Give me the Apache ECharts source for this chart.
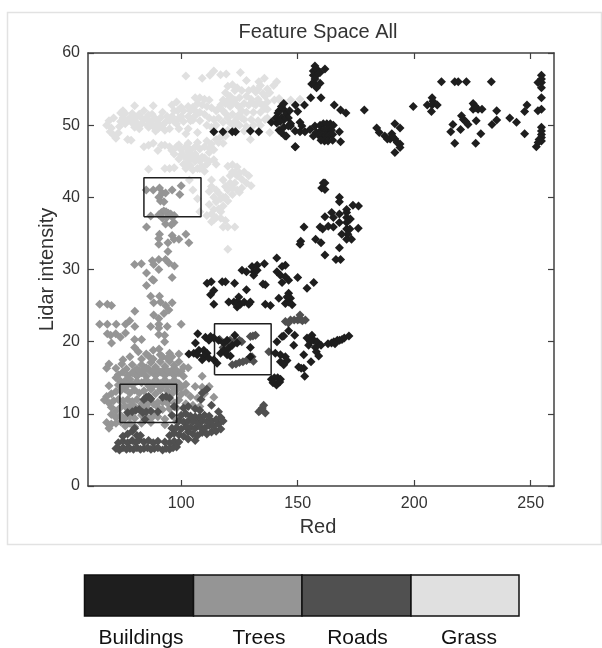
<!DOCTYPE html>
<html><head><meta charset="utf-8">
<script src="https://cdn.jsdelivr.net/npm/echarts@6/dist/echarts.min.js"></script>
<style>html,body{margin:0;padding:0;background:#fff}#c{width:602px;height:648px}</style></head>
<body><div id="c"></div>
<script>
const titleText='Feature Space All', xName='Red', yName='Lidar intensity';
const classNames=['Buildings','Trees','Roads','Grass'];
const classColors=['#1e1e1e','#959595','#505050','#e0e0e0'];
const xTicks=[100,150,200,250];
const yTicks=[0,10,20,30,40,50,60];
const boxes=[[84,108.5,37.3,42.7],[114.3,138.6,15.4,22.5],[73.7,98.1,8.8,14.1]];
const grass=[
[68,50],[69,50.6],[70,49.6],[71,51],[69.5,49.1],[71,48.6],[72,48.2],[73,48.9],[73.5,49.8],[74,50.5],[74,51.7],[75,52],[75,51],[76,51.6],[77,48],[78.5,47.9],[77,50.7],[78,51],[79,51.6],[80,52.7],[80.5,51],[81,50.3],[82,51.5],[83,51],[83,50.2],[84,52],[85,51],[85.5,50],[86,49.7],[87,50.5],[87.5,51.5],[88,52.7],[89,50.9],[90,49.5],[90,50.3],[91,51],[92,51.8],[92,50],[93,49.3],[93.5,50.5],[94,51.2],[95,50.6],[95,49.5],[96,52.8],[97,52],[98,53.2],[98.5,52],[99,51],[99,49.5],[100,52.5],[100,51.2],[101,50.5],[101,52],[102,48.8],[103,49.5],[104,52],[105,50.7],
[76,50.2],[79,50.3],[80,49.7],[82,49.5],[84,50.7],[86,51.4],[88,49.8],[89,49.2],[91,49.8],[96,51.2],[97,50.5],[98,50.2],[103,51.2],[104,50.6],[103,52.6],[105,52.5],[106,51.3],
[102,56.8],[109,56.5],[112.3,56.9],[114,57.5],[116.9,57],[119.3,57.1],[125.4,57.3],[128,56.2],[135.7,56.5],[141,56],[139.7,55.5],[133.3,56],[134,55.5],[137,55],[138,54.5],[136,54],
[106,53.8],[108,53.8],[110,53.6],[112,53.5],[107,53],[109,52.8],[111,52.6],[113,52.4],[115,52],[106,52],[108,51.8],[110,51.5],[112,51],[114,50.8],[116,51],[108,50.6],[111,50],[113,49.7],[115,50],[107,49],[118,52],[118,53.5],[119,54.5],[120,55.4],[121,54],[122,55.6],[123,54.8],[124,55.2],[121,52.6],[122,51.5],[123,53.5],[124,52.8],[120,51],[118,50.4],[125,53.8],[126,52],[126,54.8],[127,53],[127,50.8],[128,51.8],[129,52.8],[129,54.8],[130,53.6],[130,50.8],[131,51.8],[132,52.8],[132,54.6],[133,50.6],[133,53.6],[134,51.8],[135,52.8],[135,54.4],[136,50.8],[137,52.2],[137,53.2],[125,50],[123,49.8],[129.7,48],[138,49],[140,53.5],[142,53.7],[143,53.2],[144.5,53],[147,53.5],[151,53.6],[128,49.8],
[119,53],[120,53.5],[122,53],[124,51],[125,51.5],[125,52.5],[123,50.5],[121,50.3],[119,51.6],[117,52.8],[116,52.3],[128,54],[131,53],[131,55],[133,55],[134,53],[136,52.3],[131,50],[134,50],[120,49.3],[127,49.2],[137,51],[126,51],
[84,47],[86,47.2],[88,47.5],[90,46.5],[91.5,47.2],[93,47.2],[95,47],[96,46.5],[97,46],[98,47],[99,47.3],[100,46.6],[101,45.8],[102,47],[103,47.5],[104,46.6],[105,45.8],[106,47],[107,47.6],[108,46.7],[109,45.6],[110,47],[111,47.8],[112,46.8],[113,47.4],[114,46.6],[115,48],[116,47.6],[117,48.4],[118,47.5],[119,48.5],[99,45.3],[101,44.6],[102,44],[103,45],[104,44.4],[105,43.8],[106,45],[107,44],[108,45],[109,44.2],[110,43.6],[111,44.6],[112,45],[114,45.2],[115,44.6],[93,44],[95,44],[97,44.1],[103.5,42.4],[86,43.9],
[100,45.9],[102,45.5],[104,45.5],[106,46],[107,45.5],[108,44],[110,45.5],[112,46.2],[103,46.3],
[120,44.3],[122,44.5],[124,44.2],[125,43.4],[129,43],[128,42],[130,41.6],[121,43],[123,43.4],[118,42.4],[119,41.5],[120,41],[121,42],[123,42],[124,41],[126,42.5],[125,40.7],[122,40.4],[119,40],[120,39.5],[112,40.8],[113,41.5],[113,42.4],[114,40],[115,39.4],[116,40.6],[117,39.8],[118,38.8],[116,38.4],[112,39],[108,38],[111,37.5],[113,37.7],[115,37.2],[117,37.1],[119,36.8],[113,36.6],[114,36.9],[118,35.9],[120,35.9],[123,35.9],[120,32.8],[107,39.8],[105,41],
[122,41.3],[124,43],[126,41.3],[127,43.5],[122,43.5],[118,40],[115,41],[117,38],[114,38.3]];
const trees=[
[85,41],[88,41],[90.7,41.3],[91.9,40.6],[93.3,40.6],[96.1,41],[100,41.6],[99.4,40.4],[90.4,40],[91.1,39.5],[92.6,39.4],[86.9,37.4],[90.4,37.6],[91.5,37.9],[92.5,38.1],[93.5,38],[94.5,37.8],[95.5,37.7],[92,37.1],[93.8,37.2],[96,37.3],[97,37.5],[85.1,35.9],[93.3,36.3],[96.9,36.5],[95.8,36.2],[90.7,34.9],[90.4,34.3],[90.4,33.5],[94.3,33.7],[96.1,34.7],[96.9,34.2],[99,34.2],[102,34.9],[103.3,33.7],[94.3,32.5],[80,30.7],[82.9,30.8],[87.6,31.2],[90.4,31.4],[93.3,31.4],[94.7,30.9],[97.1,30.5],[88.2,30.7],[90.4,30],[85.1,29.5],[96.1,28.9],[87.6,28.6],
[85.1,27.8],[88.2,28.5],[86.9,26.3],[90.7,26.3],[88.2,25.4],[91.1,25.5],[93.3,25],[96.1,25.4],[94.7,24.4],[92.6,23.9],[88.2,23.7],[90.4,23.2],[100,22.4],[86.9,22.1],[90.4,22.4],[90.4,21.9],[94,22.1],[90.4,21],[92.9,20.9],[92.9,20],
[65,25.2],[68.3,25.2],[70.1,25],[80.1,24.2],[65,22.4],[68.3,22.4],[72.1,22.4],[76.1,22.4],[77.9,22.9],[80.1,22.1],[68.3,21.1],[69.7,20.9],[71.9,21.1],[76.1,21.2],[73.9,20.6],[70.1,19.8],[80,20.3],[83,20.3],[80,19.2],[81.6,18.6],
[88,18.8],[90.5,19],[91,18.2],[95,18.4],[99,18.3],[85,18.3],[83,17.6],[78,17.9],[75,17.5],[69,16.9],[68,16.3],[72,16.3],[74.5,16.9],[76.5,16.2],[79,16.8],[81,16.2],[83,16.8],[85,16.4],[87,17.1],[89,16.5],[91,17.2],[93,16.6],[95,17.3],[97,16.7],[99,17.2],[101,16.5],[103,16.4],[73,15.4],[75,15.8],[77,15.3],[79,15.7],[81,15.2],[83,15.7],[85,15.2],[87,15.8],[89,15.3],[91,15.8],[93,15.3],[95,15.8],[97,15.3],[99,15.7],[101,15.2],[81,14.5],[83,14.3],[85,14.7],[87,14.2],[89,14.7],[91,14.2],[93,14.7],[95,14.2],[97,14.7],[99,14.2],[102,14.1],[106,13.8],[109,15.2],[109,13.7],[112,13.8],
[69,13.9],[72,13.1],[74,13.2],[76,13.4],[78,12.9],[80,13.3],[82,12.9],[84,13.2],[87,13.4],[89,12.8],[91,13.3],[94,13.2],[96,12.8],[98,13.3],[100,12.7],[102,13],[104,12.4],[107,12.2],[110,12.8],[114,12.3],[68,12.4],[67,11.9],[69,11.5],[71,11.8],[73,12],[75,11.8],[77,12],[79,11.7],[81,12],[83,11.4],[90,11.6],[97,11.5],[99,11.9],[102,11.4],[105,11.2],[108,11],[70,10.9],[72,10.4],[74,10.9],[83,11],[85,10.9],[90,10.9],[92,10.6],[95,10.7],[98,10.8],[70,9.9],[72,9.5],[74,9.8],[76,9.4],[78,9.6],[80,9.4],[83,9.8],[90,9.6],[93,9.3],[97,9.5],[68,8.8],[70,8.6],[72,8.7],[74,8.9],[76,8.3],[78,8.7],[80,8.2],[69,8],[83,8.7],[87,8.8],[93,8.5],[98,8.9],
[72,15],[74,14.5],[76,14.6],[78,14.8],[80,15.9],[82,15.9],[84,16],[86,16.2],[88,16],[90,16],[92,15.9],[94,16],[96,16],[98,16],[100,15.9],[73,14],[75,13.9],[77,14],[79,14],[86,13.9],[88,13.9],[90,14],[92,13.8],[94,13.9],[96,13.8],[98,13.8],[100,13.6],[86,18],[88,17.6],[92,17.9],[94,17.7],[96,17.9],[70,12.8],[86,11.5],[88,11.4],[92,11.6],[94,11.5],[76,11],[78,11.1],[80,11],[87,9.5],[85,9.6],[88,9.7]];
const roads=[
[72,5.2],[73.5,5],[75,5.3],[76.5,5.1],[78,5.2],[79.5,5.1],[81,5.3],[82.5,5.1],[84,5.2],[85.5,5.3],[87,5.1],[88.5,5.2],[90,5.3],[92,5],[93.5,5.2],[95,5.1],[96.5,5.3],[98,5.4],[73,6],[75,6.2],[77,6],[79,6.3],[80.5,6],[82,6.4],[84,6.1],[86,6.3],[88,6],[90,6.2],[93,6.1],[95,6],[97,6.2],[99,6.1],[75,6.9],[77,7.2],[79,7.6],[81,7],[80,8],[82.5,7],[95,7],[97,7.3],[99,7.1],[101,6.9],[103,6.5],[106,6.3],[107,7],[105,7.2],[103,7.5],[109,7.4],[111,7.2],[113,7.5],[115,7.6],[117,7.9],[96,8],[98,8.1],[100,7.9],[102,8.2],[104,8.1],[106,8],[108,8.2],[110,8],[112,8.4],[114,8.3],[116,8.6],[99,9],[101,8.9],[103,9],[105,8.9],[107,8.8],[109,9],[111,8.9],[113,9],[115,9.2],[100,9.8],[102,10],[104,9.7],[106,9.6],[108,9.6],[110,9.8],[112,9.7],[116,10.3],[101,10.8],[103,11],[106,10.7],[108,10.5],[113,11.2],[117,9.5],[118,9],
[77,10.2],[79,10.3],[80.5,10.5],[82,10.6],[83.5,10.2],[85,10.3],[87,10.4],[84.5,9.2],[90,10.3],[84,12],[85,12.3],[86,12.4],[87,12.1],[92,12.3],[93.5,12.4],[95,12.2],[109,12.9],[111,13.4],[108.5,12],[96,9.8],[97,11],
[134,10.5],[135.4,11.2],[136.1,10.1],[133.3,10.3],[134.8,10.8],
[121.9,16.8],[123.5,16.9],[125,17.1],[126.5,17.2],[128,17.4],[129.5,17.6],[130.4,17.9],[131,17.3],[129.7,20.7],[131.9,20.9],[130.8,20.8],[121,20.2],[123,20.1],[125,20.2],[126,20],[118,19.2],[116.5,20.3],[119,18.8],[120,19.6],
[144.7,22.8],[146,22.6],[146.9,23],[148.5,23],[150,23],[151,23.1],[151,23.7],[153.3,23],[152,22.9],[137.6,18.6]];
const buildings=[
[157.4,58.2],[156.7,57.5],[158.1,57.8],[156.7,56.9],[158.1,56.9],[161.7,57.8],[159.6,57.3],[157.4,56.4],[156,55.7],[157.4,55.7],[159.6,55.8],[158.1,55.2],[155.6,53.8],[160,53.8],[152.9,52.8],[165.7,52.8],[150,51.9],[168.4,52.1],[170.7,51.7],[178.6,52.1],
[114,49.1],[117.9,49.1],[121.9,49.1],[123.3,49.1],[129.7,49.2],[133.3,49.1],[149,47],[145.1,48.5],[149,52.8],[138.7,50.4],[141,50.3],[142,49.3],[143,49],[144,49.7],[140.6,51],[141.5,51.7],[142,52],[143,52.6],[144,53],[144.5,52],[145,51.5],[146,51],[146.5,52],[143,51],[144,50.7],[142.5,50.5],[147,50.2],[146,49.9],[151,50.4],[151.8,49.9],[148.9,49.2],[151,49.1],[153.1,49.1],[155.3,49.4],[157.4,49.9],[156.7,48.5],[158,49],[159.6,50],[161,50.2],[162.5,50.2],[164,50.2],[165.3,50],[160,49.3],[161.5,49.4],[163,49.4],[164.5,49.3],[159,48.6],[160.5,48.6],[162,48.6],[163.5,48.6],[165,48.7],[160,47.9],[161.5,47.8],[163,47.8],[165,47.9],[167.9,49.1],[168.4,47.7],[148.9,47],[144.6,48.5],[146.9,49.9],
[183.9,49.6],[185,49],[187.4,48.5],[191.7,50.2],[193.9,49.6],[190.4,48.8],[189.7,48.1],[191.7,48.1],[193.9,47.4],[193.9,46.9],[191.7,46.2],[190.7,48.4],[192.7,47.6],[188.5,48.1],
[199.6,52.6],[207.7,53.8],[208,53.3],[205.6,52.8],[207.7,52.8],[209.9,52.8],[207.4,51.9],[211.7,56],[217.4,56],[218.9,56],[222.4,56],[233.1,56],
[225.3,53],[226,52.7],[225.3,52.2],[227.4,52.2],[229.1,52.2],[226.5,52.4],[235.4,52],[220.3,51.3],[221.1,50.8],[222.1,50.5],[223.1,50.1],[226.6,50.6],[235.4,50.7],[233.4,50.1],[241,51],[243.9,50.4],[216.6,50.1],[219.9,49.4],[215.7,49.1],[217.4,47.5],[226.4,47.5],[228.6,48.8],
[248.4,52.8],[247.4,51.9],[247.4,48.8],[254.6,56.9],[254.6,56.4],[254.6,55.9],[253.1,55.9],[254.6,55.2],[254.6,53.8],[254.6,52.2],[253.1,52],[254.6,49.7],[254.6,49.2],[254.6,48.7],[254.6,48.3],[254.6,47.8],[253.6,48],[252.4,47],[253.2,47.6],
[161,42],[161.7,42],[160.3,41.3],[161.7,41.1],[167.9,40],[167.9,39.4],[173.7,38.9],[176.1,38.8],[171,38.3],[171,37.9],[164.6,37.9],[167.9,37.7],[161.7,37.3],[165.3,37.2],[171,37.2],[172.6,37],[167.9,36.5],[171,36.5],[159.6,35.9],[160.7,35.6],[163.1,36],[165.3,35.9],[152.7,35.9],[176,35.7],[171,35.6],[172.4,35.6],[171.5,34.9],[168.9,34.9],[173.1,34.2],[171,34.2],[157.7,34.2],[160,33.7],[151.3,33.9],[151,33.5],[167.9,33],[161.7,32],[166.4,31.4],[168.4,31.4],
[141,31.6],[126.1,29.9],[128,29.7],[130.4,30.4],[132.6,30.6],[131.1,29.7],[132.6,29.9],[135.7,30.8],[135.1,28],[136.1,27.9],[131.1,29.2],[141.1,29.7],[143.3,30.4],[144.7,30.6],[142.6,29.2],[144.7,29],[143.3,28.2],[146.1,28.5],[150,28.9],[156.9,28.2],[154,27.4],
[111.1,28.1],[112.9,28.3],[117.6,28.3],[119,28.3],[122.9,28.1],[114,27.1],[112.6,26.5],[128,27.2],[114,25.2],[120.4,25.5],[122.6,25.5],[124.7,26.2],[124,25.5],[125.4,25.2],[124,24.8],[127,25.5],[129.7,25.5],[129,25.2],[136.1,25.2],[138.3,25],[141.9,26],[144.7,25.3],[146.1,26.7],[146.9,26],[146.1,25.5],[147.6,25.1],[145.4,26.2],
[107.1,21.1],[106.1,19.8],[110.4,20.6],[112.6,20.7],[114,20.5],[111.9,20.2],[103.3,18.3],[105.4,18.4],[107.6,18.8],[109.7,18.8],[111.1,18.4],[106.9,18.2],[109.7,18],[111.9,17.7],[114,17.5],[109,17.5],[116.9,18.4],[118.3,18.8],[120.4,19.1],[121.9,19.5],[119.7,18.2],[121.1,18],[124,19.8],[115.4,17],[129.7,19.2],[129.7,17.9],[116,20.2],[118.3,19.8],[119.7,20.2],[123,20.9],
[141.1,20],[143.3,20.7],[144,20.8],[146.1,21.5],[148.7,20.9],[140.4,18.4],[142.6,18.2],[144.7,17.9],[145.4,17.4],[142.6,17.2],[144,16.8],[148.3,19.5],[150.4,16.5],[152.6,16.3],[153,15.2],[151.5,16.3],[152.6,18.2],[155.7,17.2],[154,20.5],[156.1,20.9],[156.9,20.2],[158.3,20],[155.4,20],[157.6,19.2],[158,18.6],[154.7,19.5],
[138.7,14.8],[140,15],[141.4,15],[142.6,14.8],[139.4,14.3],[140.9,14],[142.3,14.4],
[163,19.7],[164.5,19.8],[165.5,20],[167,20.2],[168,20.2],[169,20.3],[170,20.5],[172,20.8],[166,19.7],[159,18],[160,19.5]];
const scatter=(name,data,color)=>({name,type:'scatter',data,symbol:'diamond',symbolSize:9,itemStyle:{color,opacity:1},silent:true});
const rect=b=>({type:'line',data:[[b[0],b[2]],[b[1],b[2]],[b[1],b[3]],[b[0],b[3]],[b[0],b[2]]],symbol:'none',silent:true,z:5,lineStyle:{color:'#1e1e1e',width:1.5}});
const axisLine={lineStyle:{color:'#404040',width:1.5}};
const tick={inside:true,length:6,lineStyle:{color:'#404040',width:1.2}};
const lab={fontFamily:'Liberation Sans',fontSize:16,color:'#333'};
const nameStyle={fontFamily:'Liberation Sans',fontSize:20,color:'#333'};
const barX=[84.5,193.5,302,411,519], barY=575, barH=41;
const labelCx=[141,259,357.5,469];
const graphic=[{type:'rect',shape:{x:7.5,y:12.5,width:594,height:532},style:{fill:'#fff',stroke:'#e2e2e2',lineWidth:1.5},z:-10}];
const legendOrder=[0,1,2,3];
legendOrder.forEach(i=>{
 graphic.push({type:'rect',shape:{x:barX[i],y:barY,width:barX[i+1]-barX[i],height:barH},style:{fill:classColors[i],stroke:'#111',lineWidth:1.5}});
 graphic.push({type:'text',style:{text:classNames[i],x:labelCx[i],y:638,textAlign:'center',textVerticalAlign:'middle',fontFamily:'Liberation Sans',fontSize:21,fill:'#111'}});
});
const chart=echarts.init(document.getElementById('c'),null,{renderer:'canvas'});
chart.setOption({animation:false,backgroundColor:'#fff',
 title:{text:titleText,left:313,top:17,textAlign:'center',textStyle:{fontFamily:'Liberation Sans',fontSize:20,fontWeight:'normal',color:'#333'}},
 grid:{left:88,right:48,top:53,bottom:162},
 graphic:{elements:graphic},
 xAxis:[
  {type:'value',min:60,max:260,position:'bottom',name:xName,nameLocation:'middle',nameGap:31,nameMoveOverlap:false,nameTextStyle:{...nameStyle,padding:[0,6,0,0]},splitLine:{show:false},axisLine:{...axisLine,onZero:false},axisTick:{...tick,customValues:xTicks},axisLabel:{...lab,customValues:xTicks,margin:10}},
  {type:'value',min:60,max:260,position:'top',splitLine:{show:false},axisLine:{...axisLine,onZero:false},axisTick:{...tick,customValues:xTicks},axisLabel:{show:false}}],
 yAxis:[
  {type:'value',min:0,max:60,interval:10,position:'left',name:yName,nameLocation:'middle',nameGap:31,nameMoveOverlap:false,nameRotate:90,nameTextStyle:nameStyle,splitLine:{show:false},axisLine:{...axisLine,onZero:false},axisTick:tick,axisLabel:{...lab,margin:8}},
  {type:'value',min:0,max:60,interval:10,position:'right',splitLine:{show:false},axisLine:{...axisLine,onZero:false},axisTick:tick,axisLabel:{show:false}}],
 series:[scatter('Grass',grass,classColors[3]),scatter('Trees',trees,classColors[1]),scatter('Roads',roads,classColors[2]),scatter('Buildings',buildings,classColors[0]),...boxes.map(rect)]
});
</script></body></html>
